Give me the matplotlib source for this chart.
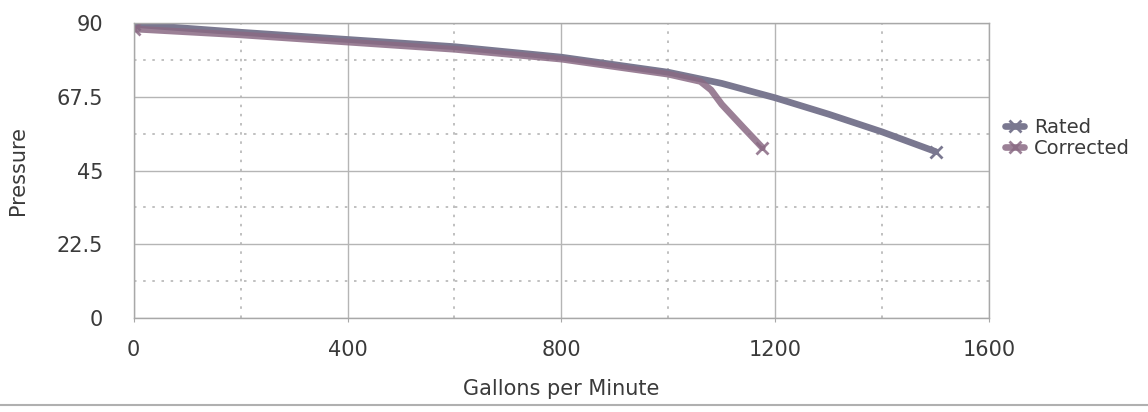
# Pump curve: Rated vs Corrected
import matplotlib.pyplot as plt
from matplotlib.lines import Line2D

# ==========================================
# Data
# ==========================================

rated_gpm = [0, 200, 400, 600, 800, 1000, 1100, 1200, 1300, 1400, 1500]
rated_psi = [89.6, 87.2, 85.0, 82.8, 79.6, 75.0, 71.6, 67.2, 62.2, 56.8, 50.8]

corrected_gpm = [0, 200, 400, 600, 800, 1000, 1060, 1080, 1100, 1140, 1176]
corrected_psi = [88.2, 86.4, 84.2, 82.0, 79.0, 74.4, 72.2, 69.6, 65.2, 58.2, 52.0]

x_ticks = [0, 400, 800, 1200, 1600]
y_ticks = [0, 22.5, 45, 67.5, 90]
y_tick_labels = ["0", "22.5", "45", "67.5", "90"]

rated_color = "#7a7890"
corrected_color = "#8a6a84"
text_color = "#3a3a3a"
grid_color = "#b5b5b5"

plt.rcParams["font.family"] = ["DejaVu Sans"]

# ==========================================
# Figure
# ==========================================

fig = plt.figure(figsize=(11.48, 4.12), dpi=100)
ax = fig.add_axes([0.1165, 0.228, 0.7450, 0.716])

ax.plot(
    rated_gpm, rated_psi,
    color=rated_color, linewidth=4.8,
    marker="x", markersize=9, markeredgewidth=2,
    markevery=[0, len(rated_gpm) - 1],
    solid_capstyle="round", label="Rated",
)
ax.plot(
    corrected_gpm, corrected_psi,
    color=corrected_color, linewidth=4.8, alpha=0.85,
    marker="x", markersize=9, markeredgewidth=2,
    markevery=[0, len(corrected_gpm) - 1],
    solid_capstyle="round", label="Corrected",
)

ax.set_xlim(0, 1600)
ax.set_ylim(0, 90)

ax.set_xticks(x_ticks)
ax.set_xticks([200, 600, 1000, 1400], minor=True)
ax.set_yticks(y_ticks)
ax.set_yticklabels(y_tick_labels)
ax.set_yticks([11.25, 33.75, 56.25, 78.75], minor=True)

ax.grid(which="major", color=grid_color, linewidth=1.0, linestyle="-")
ax.grid(which="minor", color=grid_color, linewidth=1.2, linestyle=(0, (1.5, 4)))
ax.set_axisbelow(True)

for side in ["left", "right", "top", "bottom"]:
    ax.spines[side].set_color("#a8a8a8")
    ax.spines[side].set_linewidth(1.0)

ax.tick_params(axis="both", which="major", labelsize=15,
               colors="#a8a8a8", labelcolor=text_color, length=3)
ax.tick_params(axis="x", pad=13)
ax.tick_params(axis="y", pad=22, length=0)
ax.tick_params(which="minor", length=0)

ax.set_xlabel("Gallons per Minute", fontsize=15, color=text_color)
ax.set_ylabel("Pressure", fontsize=15, color=text_color)
ax.xaxis.set_label_coords(0.5, -0.205)
ax.yaxis.set_label_coords(-0.124, 0.5)

ax.legend(
    loc="center left", bbox_to_anchor=(0.998, 0.61),
    frameon=False, fontsize=14, labelcolor=text_color,
    handlelength=1.0, handletextpad=0.5, labelspacing=0.1,
)

# faint scan border at the bottom
fig.add_artist(Line2D([0.0, 1.0], [0.018, 0.018], color="#b0b0b0", linewidth=1.5))

fig.savefig("out.png", dpi=100)
